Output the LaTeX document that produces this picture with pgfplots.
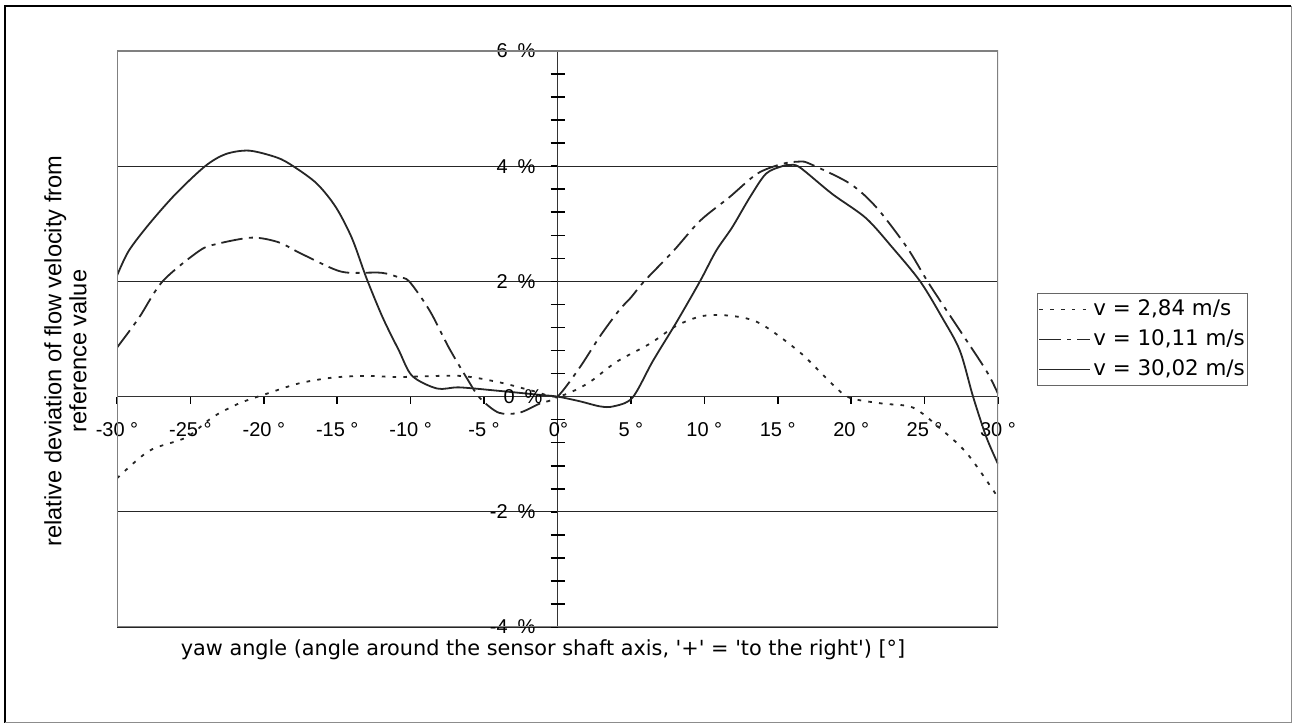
\documentclass[border=0pt]{standalone}
\usepackage{fontspec}
\setmainfont{Liberation Sans}
\newfontfamily\dejavu{DejaVu Sans}
\usepackage{pgfplots}
\usepackage{pgfplotstable}
\pgfplotsset{compat=1.18}

% v = 2,84 m/s
\pgfplotstableread{
x y
-30 -1.42
-27.8 -0.94
-25.3 -0.71
-23.5 -0.36
-21.7 -0.12
-19.8 0.05
-17.6 0.23
-15.3 0.33
-13 0.36
-10.8 0.34
-6.7 0.36
-4 0.25
-1.7 0.10
0 0.00
2.0 0.22
4.0 0.60
6.3 0.92
8.1 1.23
9.9 1.40
11.9 1.40
13.8 1.27
16.5 0.77
18.7 0.22
19.9 -0.02
22.1 -0.12
24.2 -0.19
26 -0.54
27.9 -0.99
30 -1.75
}\slow

% v = 10,11 m/s
\pgfplotstableread{
x y
-30 0.85
-28.5 1.37
-26.9 2.00
-24.4 2.53
-23.2 2.65
-20.8 2.76
-19 2.68
-17.6 2.50
-15.3 2.22
-14.2 2.15
-12 2.15
-10.8 2.07
-10.1 2.00
-8.7 1.49
-7.4 0.85
-6.2 0.33
-5.3 -0.02
-4 -0.28
-2.6 -0.28
-1.2 -0.12
0 0.00
1.5 0.50
2.9 1.05
4.2 1.50
5.0 1.72
5.9 2.00
7.9 2.53
9.7 3.05
11.7 3.46
13.6 3.87
15.3 4.04
16.5 4.08
17.2 4.04
19.9 3.70
21.7 3.29
23.8 2.59
25.3 1.96
27.4 1.15
29.2 0.45
30 0.05
}\mid

% v = 30,02 m/s
\pgfplotstableread{
x y
-30 2.10
-29.2 2.53
-27.8 3.00
-26 3.52
-24 4.00
-22.6 4.21
-21 4.27
-19.1 4.15
-18 4.00
-16.4 3.70
-15.1 3.29
-14 2.75
-13 2.05
-11.9 1.37
-10.8 0.80
-9.9 0.36
-8.2 0.14
-6.7 0.16
-4 0.10
-1.2 0.03
0 0.00
1.5 -0.08
2.9 -0.17
3.8 -0.17
5.1 -0.02
6.5 0.62
8.1 1.29
9.7 2.00
10.8 2.53
11.9 2.94
13.1 3.46
14.2 3.87
15.3 4.00
15.8 4.02
16.5 3.98
18.7 3.52
21 3.10
22.8 2.59
24.7 2.00
26.2 1.37
27.4 0.80
28.3 0.00
29.2 -0.70
30 -1.17
}\fast

\begin{document}
\begin{tikzpicture}
\path[use as bounding box] (0,0) rectangle (646.5pt,363pt);
\draw[black, line width=1pt] (2.5pt,1.5pt) -- (2.5pt,360pt) -- (645.5pt,360pt);
\draw[black!45, line width=0.5pt] (645.5pt,360pt) -- (645.5pt,1.5pt) -- (2.5pt,1.5pt);

\begin{axis}[
  at={(58.5pt,49.5pt)}, anchor=south west,
  scale only axis, width=440.5pt, height=288pt,
  xmin=-30, xmax=30, ymin=-4, ymax=6,
  axis lines=middle,
  axis line style={-, black!80, line width=0.6pt},
  xtick={-30,-25,...,30},
  ytick={-4,-2,...,6},
  extra y ticks={-3.6,-3.2,-2.8,-2.4,-1.6,-1.2,-0.8,-0.4,0.4,0.8,1.2,1.6,2.4,2.8,3.2,3.6,4.4,4.8,5.2,5.6},
  extra y tick labels={},
  extra y tick style={tick align=center, major tick length=7pt, grid=none},
  tick align=outside,
  major tick length=3.5pt,
  tick style={black, line width=0.8pt},
  ymajorgrids,
  grid style={black!85, line width=0.6pt},
  tick label style={font=\fontsize{10}{12}\selectfont},
  /pgf/number format/assume math mode=true,
  xticklabel={\pgfmathprintnumber{\tick}~°},
  yticklabel={\pgfmathprintnumber{\tick}\hspace{0.5em}\%},
  xticklabel style={anchor=north, yshift=-6pt},
  yticklabel style={anchor=east, xshift=-4pt},
  xlabel={yaw angle (angle around the sensor shaft axis, '+' = 'to the right') [°]},
  xlabel style={at={(axis description cs:0.4835,-0.04)}, anchor=center,
    font=\dejavu\fontsize{10.4}{12}\selectfont},
  ylabel={relative deviation of flow velocity from\\reference value},
  ylabel style={at={(axis description cs:-0.0585,0.479)}, anchor=center,
    rotate=90, align=center, font=\fontsize{11.8}{12.5}\selectfont},
  legend style={at={(axis description cs:1.0443,0.5799)}, anchor=north west,
    draw=black!60, line width=0.5pt, inner sep=0.5pt,
    nodes={inner xsep=1pt, inner ysep=2.5pt, text height=7.8pt, text depth=2.2pt,
      font=\dejavu\fontsize{10.7}{12}\selectfont}},
  legend cell align=left,
  legend image code/.code={\draw[#1] (0pt,0pt) -- (25.5pt,0pt);},
]
\addplot[black!85, line width=0.9pt, smooth, dash pattern=on 1.8pt off 3.6pt] table {\slow};
\addlegendentry{v = 2,84 m/s}
\addplot[black!85, line width=0.9pt, smooth, dash pattern=on 10.8pt off 3.2pt on 2pt off 3pt] table {\mid};
\addlegendentry{v = 10,11 m/s}
\addplot[black!85, line width=0.9pt, smooth] table {\fast};
\addlegendentry{v = 30,02 m/s}
\draw[black!50, line width=0.6pt] (rel axis cs:0,0) rectangle (rel axis cs:1,1);
% origin labels, which the middle axis lines leave out
\node[anchor=east, font=\fontsize{10}{12}\selectfont, inner sep=0pt] at (axis cs:0,0) [xshift=-7.3pt] {0\hspace{0.5em}\%};
\node[anchor=north, font=\fontsize{10}{12}\selectfont, inner sep=0pt] at (axis cs:0,0) [yshift=-12.7pt, xshift=0.5pt] {0°};
\end{axis}
\end{tikzpicture}
\end{document}
